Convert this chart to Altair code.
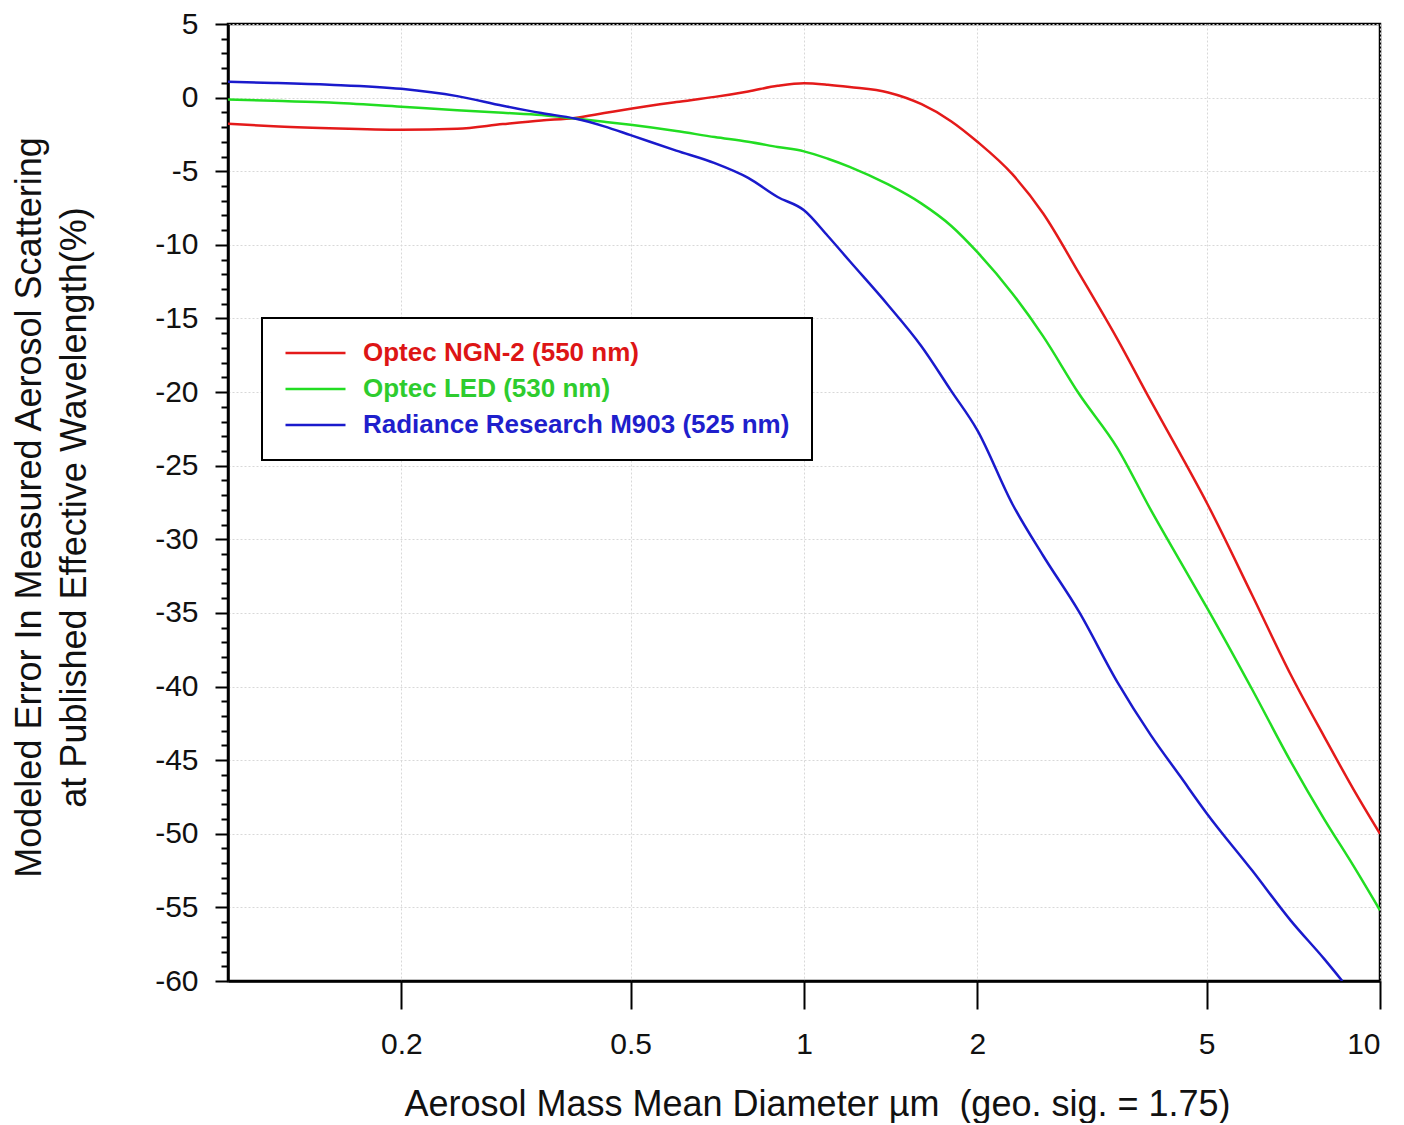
import altair as alt
import pandas as pd

# Aerosol mass mean diameter (um)
diam = [0.1, 0.12, 0.15, 0.2, 0.25, 0.3, 0.35, 0.4, 0.45, 0.5, 0.6, 0.7, 0.8, 0.9,
        1.0, 1.1, 1.2, 1.4, 1.6, 1.8, 2.0, 2.3, 2.6, 3.0, 3.5, 4.0, 4.5, 5, 6, 7, 8, 9, 10]

ngn2 = [-1.78, -1.95, -2.08, -2.18, -2.12, -1.8, -1.55, -1.38, -1.05, -0.75, -0.3, 0.05, 0.42, 0.8,
        0.98, 0.88, 0.72, 0.35, -0.45, -1.6, -3.0, -5.2, -7.85, -11.9, -16.4, -20.6, -24.2, -27.5,
        -33.8, -39.2, -43.4, -47.0, -50.0]

led = [-0.12, -0.22, -0.33, -0.62, -0.85, -1.03, -1.18, -1.42, -1.64, -1.85, -2.27, -2.68, -3.0, -3.35,
       -3.65, -4.15, -4.7, -5.9, -7.2, -8.7, -10.5, -13.3, -16.2, -20.1, -23.8, -28.0, -31.5, -34.6,
       -40.2, -45.1, -49.0, -52.2, -55.2]

m903_diam = [0.1, 0.12, 0.15, 0.2, 0.25, 0.3, 0.35, 0.4, 0.45, 0.5, 0.6, 0.7, 0.8, 0.9,
             1.0, 1.1, 1.2, 1.4, 1.6, 1.8, 2.0, 2.3, 2.6, 3.0, 3.5, 4.0, 4.5, 5, 6, 7, 8, 8.6]
m903 = [1.07, 1.0, 0.88, 0.6, 0.1, -0.55, -1.05, -1.42, -1.95, -2.55, -3.6, -4.45, -5.45, -6.75,
        -7.65, -9.4, -11.1, -14.1, -16.9, -19.9, -22.6, -27.6, -31.1, -34.9, -39.7, -43.3, -46.1, -48.6,
        -52.5, -55.9, -58.5, -60.0]

series_names = ["Optec NGN-2 (550 nm)", "Optec LED (530 nm)", "Radiance Research M903 (525 nm)"]
line_colors = ["#e41a1a", "#22dd22", "#1a1acc"]
label_colors = ["#dd1515", "#2ecc2e", "#1f1fcc"]

x_ticks = [0.2, 0.5, 1, 2, 5, 10]
y_ticks = list(range(-60, 6))

rows = []
for xs, ys, name in [(diam, ngn2, series_names[0]), (diam, led, series_names[1]),
                     (m903_diam, m903, series_names[2])]:
    for d, v in zip(xs, ys):
        rows.append({"diam": d, "err": v, "series": name})
df = pd.DataFrame(rows)

FONT = "Liberation Sans"

label_color_expr = (
    f"datum.value == '{series_names[0]}' ? '{label_colors[0]}' : "
    f"(datum.value == '{series_names[1]}' ? '{label_colors[1]}' : '{label_colors[2]}')"
)

chart = alt.Chart(df).mark_line(strokeWidth=2.5, clip=True, interpolate="monotone").encode(
    x=alt.X(
        "diam:Q",
        scale=alt.Scale(type="log", domain=[0.1, 10], nice=False),
        axis=alt.Axis(
            values=x_ticks,
            labelExpr="toString(datum.value)",
            title="Aerosol Mass Mean Diameter \u00b5m \u00a0(geo. sig. = 1.75)",
            tickSize=28,
            labelPadding=20,
            titleX=589,
            titleY=134,
            titleBaseline="alphabetic",
            gridColor="#d8d8d8",
            gridDash=[2, 2],
            gridWidth=1,
        ),
    ),
    y=alt.Y(
        "err:Q",
        scale=alt.Scale(domain=[-60, 5], nice=False, zero=False),
        axis=alt.Axis(
            values=y_ticks,
            labelExpr="datum.value % 5 === 0 ? toString(datum.value) : ''",
            tickSize={"condition": {"test": "datum.value % 5 === 0", "value": 13}, "value": 7},
            gridOpacity={"condition": {"test": "datum.value % 5 === 0", "value": 1}, "value": 0},
            labelPadding=17,
            title=["Modeled Error In Measured Aerosol Scattering", "at Published Effective Wavelength(%)"],
            titleX=-180,
            titleY=483,
            titleLineHeight=45,
            gridColor="#d8d8d8",
            gridDash=[2, 2],
            gridWidth=1,
        ),
    ),
    color=alt.Color(
        "series:N",
        scale=alt.Scale(domain=series_names, range=line_colors),
        legend=alt.Legend(
            title=None,
            orient="none",
            legendX=34,
            legendY=294,
            strokeColor="black",
            fillColor="white",
            padding=22,
            symbolType="stroke",
            symbolSize=3600,
            symbolStrokeWidth=2.5,
            labelFont=FONT,
            labelFontSize=26,
            labelFontWeight="bold",
            labelColor=alt.ExprRef(label_color_expr),
            labelOffset=16,
            rowPadding=10,
            clipHeight=26,
            labelLimit=700,
        ),
    ),
).properties(
    width=1152,
    height=957,
    autosize=alt.AutoSizeParams(type="none"),
    padding={"left": 220, "top": 16, "right": 16, "bottom": 142},
).configure_view(
    stroke="black",
    strokeWidth=2.5,
).configure_axis(
    domainColor="black",
    domainWidth=2.5,
    tickColor="black",
    tickWidth=2,
    labelFont=FONT,
    labelFontSize=30,
    labelColor="#111111",
    titleFont=FONT,
    titleFontSize=36,
    titleFontWeight="normal",
    titleColor="#111111",
).configure_legend(
    strokeWidth=2,
)

chart.save("out.html", embed_options={"renderer": "svg", "actions": False})
